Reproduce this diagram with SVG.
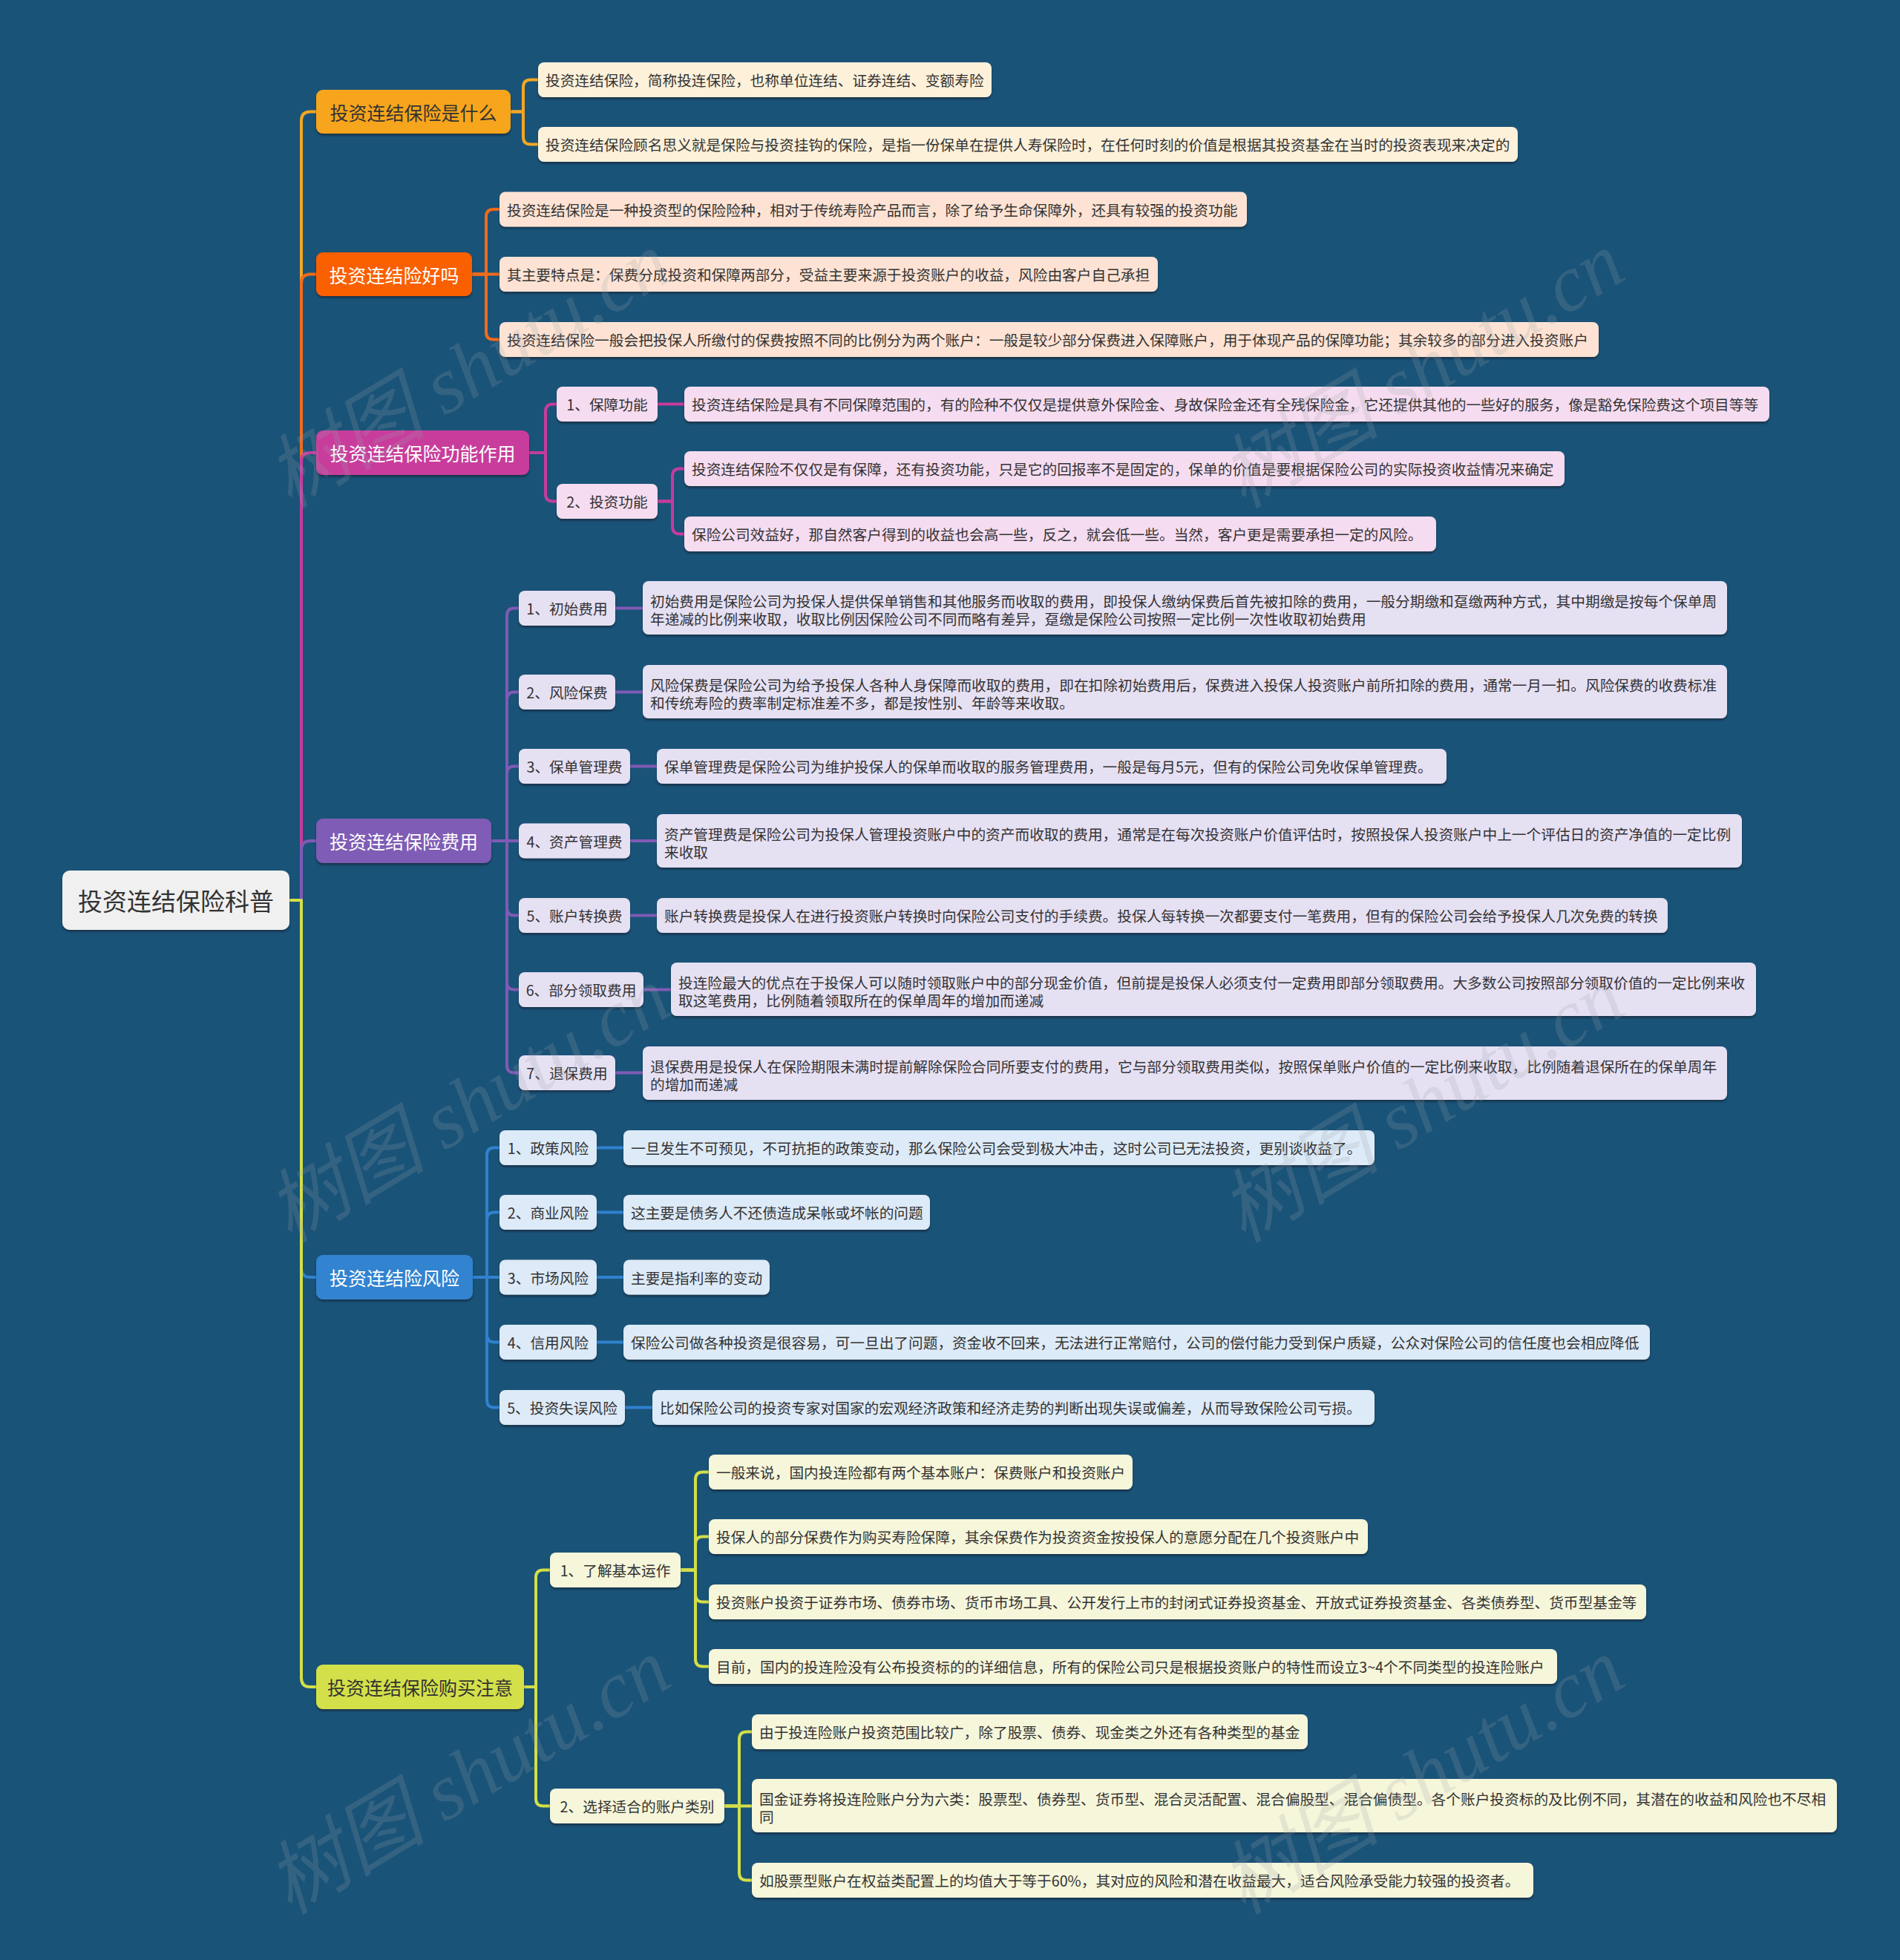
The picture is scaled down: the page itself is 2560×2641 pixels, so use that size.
<svg xmlns="http://www.w3.org/2000/svg" width="2560" height="2641" viewBox="0 0 2560 2641">
<defs>
<filter id="sh" x="-5%" y="-20%" width="110%" height="160%"><feDropShadow dx="0" dy="2.5" stdDeviation="1.2" flood-color="#08202e" flood-opacity="0.6"/></filter>
<style>
text{font-family:"Noto Sans CJK SC","Microsoft YaHei",sans-serif;dominant-baseline:central}
.rt{font-size:33px;fill:#333;text-anchor:middle}
.mt{font-size:25px;fill:#fff;text-anchor:middle}
.md{fill:#333}
.st{font-size:19.7px;fill:#333;text-anchor:middle}
.lt{font-size:19.7px;fill:#333}
rect{filter:url(#sh)}
.c{fill:none;stroke-width:4;stroke-linecap:round;stroke-linejoin:round}
.c1{stroke:#f5a623}.c2{stroke:#f26a1b}.c3{stroke:#c63c9c}.c4{stroke:#7f5bb5}.c5{stroke:#2f82cf}.c6{stroke:#d2df48}
.f1{fill:#fdf1da}.f2{fill:#fee3d4}.f3{fill:#f6dcf0}.f4{fill:#e6e0f3}.f5{fill:#ddeaf7}.f6{fill:#f6f6da}
.wm{font-family:"Liberation Serif","Noto Sans CJK SC",serif;font-style:italic;font-size:108px;fill:#9aa3ab;opacity:0.2;dominant-baseline:auto}
</style>
</defs>
<rect x="0" y="0" width="2560" height="2641" fill="#1a5378" style="filter:none"/>

<g id="connectors">
<path class="c c1" d="M390 1213 H406 V162.5 Q406 150.5 418 150.5 H426"/>
<path class="c c2" d="M390 1213 H406 V381.5 Q406 369.5 418 369.5 H426"/>
<path class="c c3" d="M390 1213 H406 V622 Q406 610 418 610 H426"/>
<path class="c c4" d="M390 1213 H406 V1145 Q406 1133 418 1133 H426"/>
<path class="c c5" d="M390 1213 H406 V1709 Q406 1721 418 1721 H426"/>
<path class="c c6" d="M390 1213 H406 V2261 Q406 2273 418 2273 H426"/>

<path class="c c1" d="M688 150.5 H705 V117.5 Q705 107.5 715 107.5 H725"/>
<path class="c c1" d="M688 150.5 H705 V184.5 Q705 194.5 715 194.5 H725"/>

<path class="c c2" d="M636 369.5 H655 V292 Q655 282 665 282 H673"/>
<path class="c c2" d="M636 369.5 H673"/>
<path class="c c2" d="M636 369.5 H655 V447.5 Q655 457.5 665 457.5 H673"/>

<path class="c c3" d="M713 610 H735 V554.5 Q735 544.5 745 544.5 H750"/>
<path class="c c3" d="M713 610 H735 V665.5 Q735 675.5 745 675.5 H750"/>
<path class="c c3" d="M886 544.5 H922"/>
<path class="c c3" d="M886 675.5 H906 V641.5 Q906 631.5 916 631.5 H922"/>
<path class="c c3" d="M886 675.5 H906 V709.5 Q906 719.5 916 719.5 H922"/>

<path class="c c4" d="M662 1133 H683 V829.5 Q683 819.5 693 819.5 H699"/>
<path class="c c4" d="M662 1133 H683 V942.5 Q683 932.5 693 932.5 H699"/>
<path class="c c4" d="M662 1133 H683 V1042.5 Q683 1032.5 693 1032.5 H699"/>
<path class="c c4" d="M662 1133 H699"/>
<path class="c c4" d="M662 1133 H683 V1223.5 Q683 1233.5 693 1233.5 H699"/>
<path class="c c4" d="M662 1133 H683 V1323.5 Q683 1333.5 693 1333.5 H699"/>
<path class="c c4" d="M662 1133 H683 V1435.5 Q683 1445.5 693 1445.5 H699"/>
<path class="c c4" d="M829 819.5 H866"/>
<path class="c c4" d="M829 932.5 H866"/>
<path class="c c4" d="M849 1032.5 H885"/>
<path class="c c4" d="M849 1133 H885"/>
<path class="c c4" d="M849 1233.5 H885"/>
<path class="c c4" d="M867 1333.5 H904"/>
<path class="c c4" d="M829 1445.5 H866"/>

<path class="c c5" d="M637 1721 H656 V1556.5 Q656 1546.5 666 1546.5 H673"/>
<path class="c c5" d="M637 1721 H656 V1643.5 Q656 1633.5 666 1633.5 H673"/>
<path class="c c5" d="M637 1721 H673"/>
<path class="c c5" d="M637 1721 H656 V1798.5 Q656 1808.5 666 1808.5 H673"/>
<path class="c c5" d="M637 1721 H656 V1886.5 Q656 1896.5 666 1896.5 H673"/>
<path class="c c5" d="M804 1546.5 H840"/>
<path class="c c5" d="M804 1633.5 H840"/>
<path class="c c5" d="M804 1721 H840"/>
<path class="c c5" d="M804 1808.5 H840"/>
<path class="c c5" d="M842 1896.5 H879"/>

<path class="c c6" d="M706 2273 H722 V2125.5 Q722 2115.5 732 2115.5 H741"/>
<path class="c c6" d="M706 2273 H722 V2423.5 Q722 2433.5 732 2433.5 H741"/>
<path class="c c6" d="M917 2115.5 H937 V1993.5 Q937 1983.5 947 1983.5 H955"/>
<path class="c c6" d="M917 2115.5 H937 V2080.5 Q937 2070.5 947 2070.5 H955"/>
<path class="c c6" d="M917 2115.5 H937 V2148.5 Q937 2158.5 947 2158.5 H955"/>
<path class="c c6" d="M917 2115.5 H937 V2235.5 Q937 2245.5 947 2245.5 H955"/>
<path class="c c6" d="M976 2433.5 H996 V2343.5 Q996 2333.5 1006 2333.5 H1013"/>
<path class="c c6" d="M976 2433.5 H1013"/>
<path class="c c6" d="M976 2433.5 H996 V2523.5 Q996 2533.5 1006 2533.5 H1013"/>
</g>

<g id="root"><rect x="84" y="1173" width="306" height="80" rx="10" fill="#f0f0f0"/><text class="rt" x="237" y="1213">投资连结保险科普</text></g>

<g id="b1"><rect x="426" y="121" width="262" height="59" rx="9" fill="#f7a51e"/><text class="mt md" x="557" y="150.5">投资连结保险是什么</text></g>
<g id="b1-1"><rect class="f1" x="725" y="84" width="611" height="47" rx="8"/><text class="lt" x="735" y="107.5">投资连结保险，简称投连保险，也称单位连结、证券连结、变额寿险</text></g>
<g id="b1-2"><rect class="f1" x="725" y="171" width="1320" height="47" rx="8"/><text class="lt" x="735" y="194.5">投资连结保险顾名思义就是保险与投资挂钩的保险，是指一份保单在提供人寿保险时，在任何时刻的价值是根据其投资基金在当时的投资表现来决定的</text></g>

<g id="b2"><rect x="426" y="340" width="210" height="59" rx="9" fill="#fa5f06"/><text class="mt" x="531" y="369.5">投资连结险好吗</text></g>
<g id="b2-1"><rect class="f2" x="673" y="258.5" width="1007" height="47" rx="8"/><text class="lt" x="683" y="282">投资连结保险是一种投资型的保险险种，相对于传统寿险产品而言，除了给予生命保障外，还具有较强的投资功能</text></g>
<g id="b2-2"><rect class="f2" x="673" y="346" width="887" height="47" rx="8"/><text class="lt" x="683" y="369.5">其主要特点是：保费分成投资和保障两部分，受益主要来源于投资账户的收益，风险由客户自己承担</text></g>
<g id="b2-3"><rect class="f2" x="673" y="434" width="1481" height="47" rx="8"/><text class="lt" x="683" y="457.5">投资连结保险一般会把投保人所缴付的保费按照不同的比例分为两个账户：一般是较少部分保费进入保障账户，用于体现产品的保障功能；其余较多的部分进入投资账户</text></g>

<g id="b3"><rect x="426" y="580" width="287" height="60" rx="9" fill="#c83c9c"/><text class="mt" x="569.5" y="610">投资连结保险功能作用</text></g>
<g id="b3-1"><rect class="f3" x="750" y="521" width="136" height="47" rx="8"/><text class="st" x="818" y="544.5">1、保障功能</text></g>
<g id="b3-2"><rect class="f3" x="750" y="652" width="136" height="47" rx="8"/><text class="st" x="818" y="675.5">2、投资功能</text></g>
<g id="b3-1-1"><rect class="f3" x="922" y="521" width="1462" height="47" rx="8"/><text class="lt" x="932" y="544.5">投资连结保险是具有不同保障范围的，有的险种不仅仅是提供意外保险金、身故保险金还有全残保险金，它还提供其他的一些好的服务，像是豁免保险费这个项目等等</text></g>
<g id="b3-2-1"><rect class="f3" x="922" y="608" width="1186" height="47" rx="8"/><text class="lt" x="932" y="631.5">投资连结保险不仅仅是有保障，还有投资功能，只是它的回报率不是固定的，保单的价值是要根据保险公司的实际投资收益情况来确定</text></g>
<g id="b3-2-2"><rect class="f3" x="922" y="696" width="1013" height="47" rx="8"/><text class="lt" x="932" y="719.5">保险公司效益好，那自然客户得到的收益也会高一些，反之，就会低一些。当然，客户更是需要承担一定的风险。</text></g>

<g id="b4"><rect x="426" y="1103" width="236" height="60" rx="9" fill="#7f5bb5"/><text class="mt" x="544" y="1133">投资连结保险费用</text></g>
<g id="b4-1"><rect class="f4" x="699" y="796" width="130" height="47" rx="8"/><text class="st" x="764" y="819.5">1、初始费用</text></g>
<g id="b4-1-1"><rect class="f4" x="866" y="783" width="1461" height="72" rx="8"/><text class="lt" x="876" y="809">初始费用是保险公司为投保人提供保单销售和其他服务而收取的费用，即投保人缴纳保费后首先被扣除的费用，一般分期缴和趸缴两种方式，其中期缴是按每个保单周</text><text class="lt" x="876" y="833">年递减的比例来收取，收取比例因保险公司不同而略有差异，趸缴是保险公司按照一定比例一次性收取初始费用</text></g>
<g id="b4-2"><rect class="f4" x="699" y="909" width="130" height="47" rx="8"/><text class="st" x="764" y="932.5">2、风险保费</text></g>
<g id="b4-2-1"><rect class="f4" x="866" y="896" width="1461" height="72" rx="8"/><text class="lt" x="876" y="922">风险保费是保险公司为给予投保人各种人身保障而收取的费用，即在扣除初始费用后，保费进入投保人投资账户前所扣除的费用，通常一月一扣。风险保费的收费标准</text><text class="lt" x="876" y="946">和传统寿险的费率制定标准差不多，都是按性别、年龄等来收取。</text></g>
<g id="b4-3"><rect class="f4" x="699" y="1009" width="150" height="47" rx="8"/><text class="st" x="774" y="1032.5">3、保单管理费</text></g>
<g id="b4-3-1"><rect class="f4" x="885" y="1009" width="1064" height="47" rx="8"/><text class="lt" x="895" y="1032.5">保单管理费是保险公司为维护投保人的保单而收取的服务管理费用，一般是每月5元，但有的保险公司免收保单管理费。</text></g>
<g id="b4-4"><rect class="f4" x="699" y="1109.5" width="150" height="47" rx="8"/><text class="st" x="774" y="1133">4、资产管理费</text></g>
<g id="b4-4-1"><rect class="f4" x="885" y="1097" width="1462" height="72" rx="8"/><text class="lt" x="895" y="1123">资产管理费是保险公司为投保人管理投资账户中的资产而收取的费用，通常是在每次投资账户价值评估时，按照投保人投资账户中上一个评估日的资产净值的一定比例</text><text class="lt" x="895" y="1147">来收取</text></g>
<g id="b4-5"><rect class="f4" x="699" y="1210" width="150" height="47" rx="8"/><text class="st" x="774" y="1233.5">5、账户转换费</text></g>
<g id="b4-5-1"><rect class="f4" x="885" y="1210" width="1362" height="47" rx="8"/><text class="lt" x="895" y="1233.5">账户转换费是投保人在进行投资账户转换时向保险公司支付的手续费。投保人每转换一次都要支付一笔费用，但有的保险公司会给予投保人几次免费的转换</text></g>
<g id="b4-6"><rect class="f4" x="699" y="1310" width="168" height="47" rx="8"/><text class="st" x="783" y="1333.5">6、部分领取费用</text></g>
<g id="b4-6-1"><rect class="f4" x="904" y="1297" width="1462" height="72" rx="8"/><text class="lt" x="914" y="1323">投连险最大的优点在于投保人可以随时领取账户中的部分现金价值，但前提是投保人必须支付一定费用即部分领取费用。大多数公司按照部分领取价值的一定比例来收</text><text class="lt" x="914" y="1347">取这笔费用，比例随着领取所在的保单周年的增加而递减</text></g>
<g id="b4-7"><rect class="f4" x="699" y="1422" width="130" height="47" rx="8"/><text class="st" x="764" y="1445.5">7、退保费用</text></g>
<g id="b4-7-1"><rect class="f4" x="866" y="1410" width="1461" height="72" rx="8"/><text class="lt" x="876" y="1436">退保费用是投保人在保险期限未满时提前解除保险合同所要支付的费用，它与部分领取费用类似，按照保单账户价值的一定比例来收取，比例随着退保所在的保单周年</text><text class="lt" x="876" y="1460">的增加而递减</text></g>

<g id="b5"><rect x="426" y="1691" width="211" height="60" rx="9" fill="#3383d0"/><text class="mt" x="531.5" y="1721">投资连结险风险</text></g>
<g id="b5-1"><rect class="f5" x="673" y="1523" width="131" height="47" rx="8"/><text class="st" x="738.5" y="1546.5">1、政策风险</text></g>
<g id="b5-1-1"><rect class="f5" x="840" y="1523" width="1012" height="47" rx="8"/><text class="lt" x="850" y="1546.5">一旦发生不可预见，不可抗拒的政策变动，那么保险公司会受到极大冲击，这时公司已无法投资，更别谈收益了。</text></g>
<g id="b5-2"><rect class="f5" x="673" y="1610" width="131" height="47" rx="8"/><text class="st" x="738.5" y="1633.5">2、商业风险</text></g>
<g id="b5-2-1"><rect class="f5" x="840" y="1610" width="413" height="47" rx="8"/><text class="lt" x="850" y="1633.5">这主要是债务人不还债造成呆帐或坏帐的问题</text></g>
<g id="b5-3"><rect class="f5" x="673" y="1697.5" width="131" height="47" rx="8"/><text class="st" x="738.5" y="1721">3、市场风险</text></g>
<g id="b5-3-1"><rect class="f5" x="840" y="1697.5" width="197" height="47" rx="8"/><text class="lt" x="850" y="1721">主要是指利率的变动</text></g>
<g id="b5-4"><rect class="f5" x="673" y="1785" width="131" height="47" rx="8"/><text class="st" x="738.5" y="1808.5">4、信用风险</text></g>
<g id="b5-4-1"><rect class="f5" x="840" y="1785" width="1383" height="47" rx="8"/><text class="lt" x="850" y="1808.5">保险公司做各种投资是很容易，可一旦出了问题，资金收不回来，无法进行正常赔付，公司的偿付能力受到保户质疑，公众对保险公司的信任度也会相应降低</text></g>
<g id="b5-5"><rect class="f5" x="673" y="1873" width="169" height="47" rx="8"/><text class="st" x="757.5" y="1896.5">5、投资失误风险</text></g>
<g id="b5-5-1"><rect class="f5" x="879" y="1873" width="973" height="47" rx="8"/><text class="lt" x="889" y="1896.5">比如保险公司的投资专家对国家的宏观经济政策和经济走势的判断出现失误或偏差，从而导致保险公司亏损。</text></g>

<g id="b6"><rect x="426" y="2243" width="280" height="60" rx="9" fill="#d3e04a"/><text class="mt md" x="566" y="2273">投资连结保险购买注意</text></g>
<g id="b6-1"><rect class="f6" x="741" y="2092" width="176" height="47" rx="8"/><text class="st" x="829" y="2115.5">1、了解基本运作</text></g>
<g id="b6-1-1"><rect class="f6" x="955" y="1960" width="571" height="47" rx="8"/><text class="lt" x="965" y="1983.5">一般来说，国内投连险都有两个基本账户：保费账户和投资账户</text></g>
<g id="b6-1-2"><rect class="f6" x="955" y="2047" width="888" height="47" rx="8"/><text class="lt" x="965" y="2070.5">投保人的部分保费作为购买寿险保障，其余保费作为投资资金按投保人的意愿分配在几个投资账户中</text></g>
<g id="b6-1-3"><rect class="f6" x="955" y="2135" width="1263" height="47" rx="8"/><text class="lt" x="965" y="2158.5">投资账户投资于证券市场、债券市场、货币市场工具、公开发行上市的封闭式证券投资基金、开放式证券投资基金、各类债券型、货币型基金等</text></g>
<g id="b6-1-4"><rect class="f6" x="955" y="2222" width="1143" height="47" rx="8"/><text class="lt" x="965" y="2245.5">目前，国内的投连险没有公布投资标的的详细信息，所有的保险公司只是根据投资账户的特性而设立3~4个不同类型的投连险账户</text></g>
<g id="b6-2"><rect class="f6" x="741" y="2410" width="235" height="47" rx="8"/><text class="st" x="858.5" y="2433.5">2、选择适合的账户类别</text></g>
<g id="b6-2-1"><rect class="f6" x="1013" y="2310" width="749" height="47" rx="8"/><text class="lt" x="1023" y="2333.5">由于投连险账户投资范围比较广，除了股票、债券、现金类之外还有各种类型的基金</text></g>
<g id="b6-2-2"><rect class="f6" x="1013" y="2397" width="1462" height="72" rx="8"/><text class="lt" x="1023" y="2423">国金证券将投连险账户分为六类：股票型、债券型、货币型、混合灵活配置、混合偏股型、混合偏债型。各个账户投资标的及比例不同，其潜在的收益和风险也不尽相</text><text class="lt" x="1023" y="2447">同</text></g>
<g id="b6-2-3"><rect class="f6" x="1013" y="2510" width="1053" height="47" rx="8"/><text class="lt" x="1023" y="2533.5">如股票型账户在权益类配置上的均值大于等于60%，其对应的风险和潜在收益最大，适合风险承受能力较强的投资者。</text></g>

<g id="watermarks">
<text class="wm" transform="translate(650 530) rotate(-31)" text-anchor="middle">树图 shutu.cn</text>
<text class="wm" transform="translate(1935 530) rotate(-31)" text-anchor="middle">树图 shutu.cn</text>
<text class="wm" transform="translate(650 1520) rotate(-31)" text-anchor="middle">树图 shutu.cn</text>
<text class="wm" transform="translate(1935 1520) rotate(-31)" text-anchor="middle">树图 shutu.cn</text>
<text class="wm" transform="translate(650 2425) rotate(-31)" text-anchor="middle">树图 shutu.cn</text>
<text class="wm" transform="translate(1935 2425) rotate(-31)" text-anchor="middle">树图 shutu.cn</text>
</g>
</svg>
